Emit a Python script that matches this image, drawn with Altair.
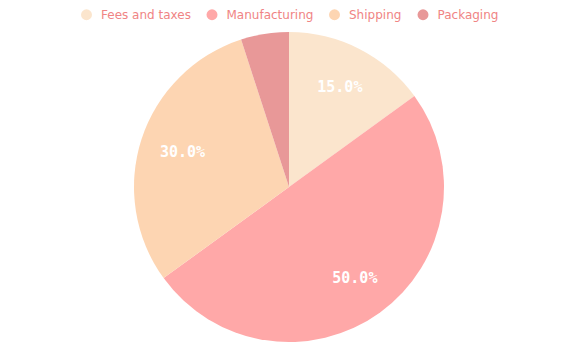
import altair as alt
import pandas as pd

categories = ["Fees and taxes", "Manufacturing", "Shipping", "Packaging"]
values = [15, 50, 30, 5]
colors = ["#FBE5CD", "#FFA8A8", "#FDD5B2", "#E89898"]

total = sum(values)
labels = [f"{v / total * 100:.1f}%" if v / total >= 0.1 else "" for v in values]

df = pd.DataFrame({
    "category": categories,
    "value": values,
    "order": list(range(len(categories))),
    "label": labels,
})

CX, CY, R = 281, 179, 155

base = alt.Chart(df).encode(
    theta=alt.Theta("value:Q", stack=True),
    order=alt.Order("order:Q"),
)

pie = base.mark_arc(radius=R, x=CX, y=CY).encode(
    color=alt.Color(
        "category:N",
        scale=alt.Scale(domain=categories, range=colors),
        sort=categories,
        legend=alt.Legend(
            orient="none",
            legendX=72,
            legendY=0,
            direction="horizontal",
            title=None,
            symbolType="circle",
            symbolSize=120,
            symbolOpacity=1,
            labelFontSize=12,
            labelFont="DejaVu Sans",
            labelColor="#F08484",
            labelOffset=8,
            columnPadding=14.5,
        ),
    )
)

text = base.mark_text(
    radius=112, x=CX, y=CY, font="DejaVu Sans Mono", fontWeight="bold",
    fontSize=15, color="white"
).encode(text="label:N")

chart = (pie + text).properties(
    width=568, height=343, padding=0,
    autosize=alt.AutoSizeParams(type="none"),
).configure_view(stroke=None)

chart.save("out.html", embed_options={"renderer": "svg", "actions": False})
